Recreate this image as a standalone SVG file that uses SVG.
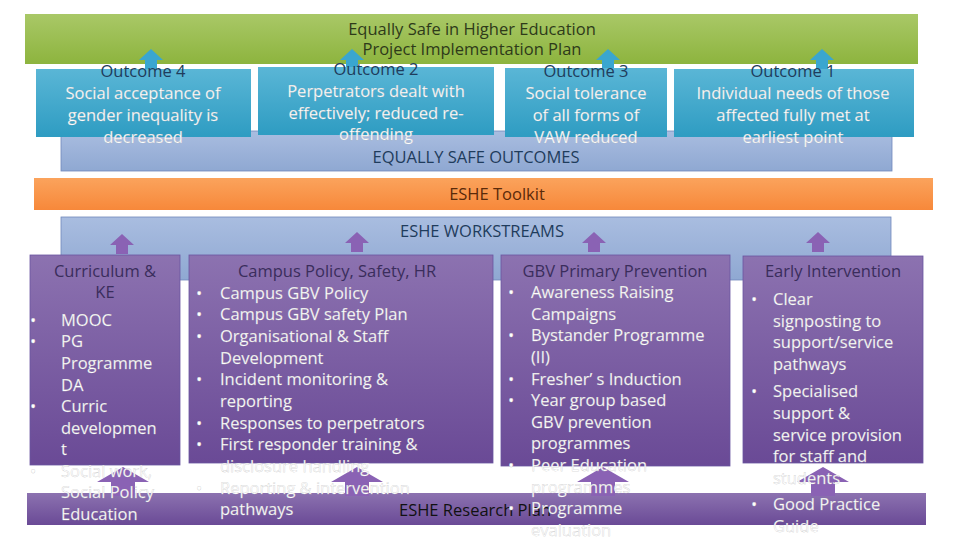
<svg xmlns="http://www.w3.org/2000/svg" width="960" height="540" viewBox="0 0 960 540">
<defs>
<linearGradient id="pg" x1="0" y1="0" x2="0" y2="1"><stop offset="0" stop-color="#8c72b0"/><stop offset="1" stop-color="#6a4a96"/></linearGradient>
<linearGradient id="tg" x1="0" y1="0" x2="0" y2="1"><stop offset="0" stop-color="#5ab6d6"/><stop offset="1" stop-color="#2e9cc2"/></linearGradient>
<linearGradient id="bg" x1="0" y1="0" x2="0" y2="1"><stop offset="0" stop-color="#a9bde0"/><stop offset="1" stop-color="#8fa8d2"/></linearGradient>
<linearGradient id="gg" x1="0" y1="0" x2="0" y2="1"><stop offset="0" stop-color="#a9c867"/><stop offset="1" stop-color="#8db43e"/></linearGradient>
<linearGradient id="og" x1="0" y1="0" x2="0" y2="1"><stop offset="0" stop-color="#fba35c"/><stop offset="1" stop-color="#f7883a"/></linearGradient>
<path id="au" d="M-6,0 V-9 H-12 L0,-20 L12,-9 H6 V0 Z"/>
<path id="ab" d="M-12,0 V-14 H-26 L0,-29 L26,-14 H12 V0 Z"/>
</defs>
<style>
text{font-family:"Open Sans","Noto Sans",sans-serif;font-size:16.5px}
.c{text-anchor:middle}
.h{fill:#3a2d5c}
.w{fill:#fff;stroke:#b8b8b8;stroke-width:0.25}
.dk{fill:#1f3c5c}
.box{fill:url(#pg);stroke:#6a55a0;stroke-width:0.8}
.tb{fill:url(#tg)}
.pa{fill:#8a62b4}
.ta{fill:#3aa6d0}
</style>
<rect width="960" height="540" fill="#fff"/>
<g id="plan"><rect x="25" y="14" width="893" height="50" fill="url(#gg)"/>
<text class="c" x="472" y="35" fill="#2e3a1a">Equally Safe in Higher Education</text>
<text class="c" x="472" y="55" fill="#2e3a1a">Project Implementation Plan</text></g>
<g id="outcomes-band"><rect x="61" y="131" width="831" height="40" fill="url(#bg)" stroke="#7088bb" stroke-width="0.8"/>
<text class="c dk" x="476" y="163">EQUALLY SAFE OUTCOMES</text></g>
<g id="connectors">
<use href="#au" x="151" y="69" class="ta"/><use href="#au" x="352" y="69" class="ta"/><use href="#au" x="608" y="69" class="ta"/><use href="#au" x="822" y="69" class="ta"/>
</g>
<g id="o4"><rect x="36" y="69" width="215" height="68" class="tb"/>
<text class="c dk" x="143" y="77">Outcome 4</text>
<text class="c w" x="143" y="99">Social acceptance of</text><text class="c w" x="143" y="121">gender inequality is</text><text class="c w" x="143" y="143">decreased</text></g>
<g id="o2"><rect x="258" y="67" width="236" height="68" class="tb"/>
<text class="c dk" x="376" y="75">Outcome 2</text>
<text class="c w" x="376" y="97">Perpetrators dealt with</text><text class="c w" x="376" y="119">effectively; reduced re-</text><text class="c w" x="376" y="140">offending</text></g>
<g id="o3"><rect x="505" y="68" width="162" height="69" class="tb"/>
<text class="c dk" x="586" y="77">Outcome 3</text>
<text class="c w" x="586" y="99">Social tolerance</text><text class="c w" x="586" y="121">of all forms of</text><text class="c w" x="586" y="143">VAW reduced</text></g>
<g id="o1"><rect x="674" y="69" width="240" height="68" class="tb"/>
<text class="c dk" x="793" y="77">Outcome 1</text>
<text class="c w" x="793" y="99">Individual needs of those</text><text class="c w" x="793" y="121">affected fully met at</text><text class="c w" x="793" y="143">earliest point</text></g>
<g id="toolkit"><rect x="34" y="178" width="899" height="32" fill="url(#og)"/>
<text class="c" x="497" y="200" fill="#5a2a0a">ESHE Toolkit</text></g>
<g id="workstreams"><rect x="61" y="217" width="830" height="63" fill="url(#bg)" stroke="#7088bb" stroke-width="0.8"/>
<text class="c dk" x="482" y="237">ESHE WORKSTREAMS</text></g>
<g id="research"><rect x="27" y="493" width="899" height="32" fill="url(#pg)"/>
<text class="c" x="475" y="516" fill="#111">ESHE Research Plan</text></g>
<g id="connectors2">
<use href="#au" x="122" y="254" class="pa"/><use href="#au" x="357" y="252" class="pa"/><use href="#au" x="594" y="252" class="pa"/><use href="#au" x="818" y="252" class="pa"/>
<use href="#ab" x="123" y="496" class="pa"/><use href="#ab" x="357" y="496" class="pa"/><use href="#ab" x="603" y="496" class="pa"/><use href="#ab" x="823" y="496" class="pa"/>
</g>
<g id="curriculum"><rect x="30" y="255" width="150" height="210" class="box"/>
<text class="c h" x="105" y="277">Curriculum &amp;</text><text class="c h" x="105" y="298">KE</text>
<g class="w"><text x="30" y="326">•</text><text x="61" y="326">MOOC</text><text x="30" y="347">•</text><text x="61" y="347">PG</text><text x="61" y="369">Programme</text><text x="61" y="391">DA</text><text x="30" y="412">•</text><text x="61" y="412">Curric</text><text x="61" y="434">developmen</text><text x="61" y="455">t</text><text x="30" y="477">•</text><text x="61" y="477">Social work,</text><text x="61" y="498">Social Policy</text><text x="61" y="520">Education</text></g></g>
<g id="campus"><rect x="189" y="255" width="304" height="208" class="box"/>
<text class="c h" x="337" y="277">Campus Policy, Safety, HR</text>
<g class="w"><text x="196" y="299">•</text><text x="220" y="299">Campus GBV Policy</text><text x="196" y="320">•</text><text x="220" y="320">Campus GBV safety Plan</text><text x="196" y="342">•</text><text x="220" y="342">Organisational &amp; Staff</text><text x="220" y="364">Development</text><text x="196" y="385">•</text><text x="220" y="385">Incident monitoring &amp;</text><text x="220" y="407">reporting</text><text x="196" y="429">•</text><text x="220" y="429">Responses to perpetrators</text><text x="196" y="450">•</text><text x="220" y="450">First responder training &amp;</text><text x="220" y="472">disclosure handling</text><text x="196" y="494">•</text><text x="220" y="494">Reporting &amp; intervention</text><text x="220" y="515">pathways</text></g></g>
<g id="gbv"><rect x="501" y="255" width="229" height="211" class="box"/>
<text class="c h" x="615" y="277">GBV Primary Prevention</text>
<g class="w"><text x="508" y="298">•</text><text x="531" y="298">Awareness Raising</text><text x="531" y="320">Campaigns</text><text x="508" y="341">•</text><text x="531" y="341">Bystander Programme</text><text x="531" y="363">(II)</text><text x="508" y="385">•</text><text x="531" y="385">Fresher’ s Induction</text><text x="508" y="406">•</text><text x="531" y="406">Year group based</text><text x="531" y="428">GBV prevention</text><text x="531" y="449">programmes</text><text x="508" y="471">•</text><text x="531" y="471">Peer Education</text><text x="531" y="493">programmes</text><text x="508" y="514">•</text><text x="531" y="514">Programme</text><text x="531" y="536">evaluation</text></g></g>
<g id="early"><rect x="743" y="256" width="180" height="207" class="box"/>
<text class="c h" x="833" y="277">Early Intervention</text>
<g class="w"><text x="751" y="305">•</text><text x="773" y="305">Clear</text><text x="773" y="327">signposting to</text><text x="773" y="348">support/service</text><text x="773" y="370">pathways</text><text x="751" y="397">•</text><text x="773" y="397">Specialised</text><text x="773" y="419">support &amp;</text><text x="773" y="441">service provision</text><text x="773" y="462">for staff and</text><text x="773" y="484">students</text><text x="751" y="510">•</text><text x="773" y="510">Good Practice</text><text x="773" y="532">Guide</text></g></g>
</svg>
